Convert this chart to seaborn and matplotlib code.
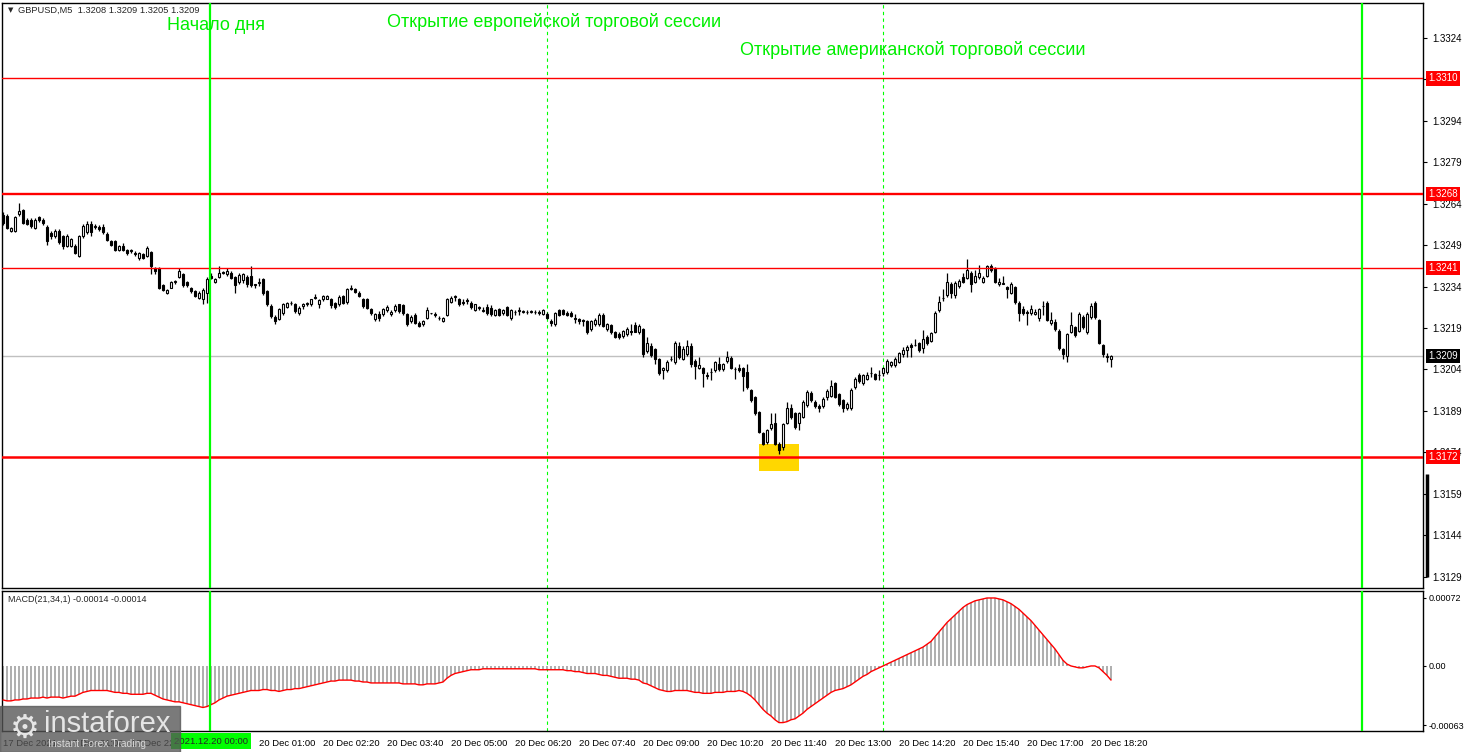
import numpy as np
import pandas as pd
import matplotlib
matplotlib.use('Agg')
import matplotlib.pyplot as plt
import matplotlib.transforms as mtransforms
from matplotlib.patches import Rectangle
import seaborn as sns

# GBPUSD M5 candles, 17 Dec 19:40 .. 20 Dec 18:45
open_p = [
    1.32604, 1.32598, 1.32546, 1.32546, 1.32607, 1.32622, 1.32585, 1.32585, 1.32555, 1.32595,
    1.32583, 1.32559, 1.32537, 1.32525, 1.32546, 1.32527, 1.32489, 1.32489, 1.32491, 1.32453,
    1.32527, 1.32540, 1.32571, 1.32559, 1.32559, 1.32559, 1.32535, 1.32507, 1.32507, 1.32477,
    1.32489, 1.32477, 1.32473, 1.32465, 1.32447, 1.32459, 1.32453, 1.32467, 1.32410, 1.32410,
    1.32346, 1.32317, 1.32338, 1.32358, 1.32378, 1.32386, 1.32358, 1.32338, 1.32326, 1.32302,
    1.32296, 1.32317, 1.32380, 1.32358, 1.32377, 1.32394, 1.32386, 1.32392, 1.32377, 1.32358,
    1.32365, 1.32377, 1.32380, 1.32346, 1.32355, 1.32368, 1.32326, 1.32271, 1.32233, 1.32225,
    1.32247, 1.32269, 1.32281, 1.32277, 1.32245, 1.32273, 1.32277, 1.32277, 1.32301, 1.32277,
    1.32295, 1.32298, 1.32295, 1.32281, 1.32277, 1.32308, 1.32286, 1.32334, 1.32334, 1.32320,
    1.32295, 1.32295, 1.32259, 1.32223, 1.32241, 1.32241, 1.32256, 1.32241, 1.32256, 1.32277,
    1.32275, 1.32241, 1.32215, 1.32239, 1.32211, 1.32205, 1.32229, 1.32244, 1.32241, 1.32229,
    1.32217, 1.32239, 1.32287, 1.32304, 1.32296, 1.32287, 1.32292, 1.32283, 1.32256, 1.32265,
    1.32253, 1.32268, 1.32263, 1.32239, 1.32259, 1.32244, 1.32268, 1.32227, 1.32248, 1.32253,
    1.32251, 1.32248, 1.32251, 1.32249, 1.32251, 1.32241, 1.32241, 1.32217, 1.32205, 1.32256,
    1.32256, 1.32247, 1.32247, 1.32229, 1.32223, 1.32220, 1.32215, 1.32187, 1.32205, 1.32207,
    1.32239, 1.32187, 1.32202, 1.32175, 1.32171, 1.32163, 1.32169, 1.32181, 1.32202, 1.32175,
    1.32187, 1.32108, 1.32126, 1.32114, 1.32078, 1.32038, 1.32038, 1.32078, 1.32066, 1.32126,
    1.32078, 1.32096, 1.32126, 1.32072, 1.32045, 1.32045, 1.32020, 1.32030, 1.32038, 1.32060,
    1.32042, 1.32070, 1.32082, 1.32042, 1.32045, 1.32045, 1.32032, 1.31967, 1.31941, 1.31886,
    1.31809, 1.31776, 1.31828, 1.31846, 1.31768, 1.31758, 1.31846, 1.31898, 1.31882, 1.31846,
    1.31868, 1.31910, 1.31953, 1.31922, 1.31906, 1.31906, 1.31938, 1.31943, 1.31989, 1.31950,
    1.31928, 1.31898, 1.31898, 1.31977, 1.32020, 1.31989, 1.32007, 1.32028, 1.32023, 1.32020,
    1.32028, 1.32032, 1.32056, 1.32056, 1.32068, 1.32096, 1.32111, 1.32129, 1.32129, 1.32138,
    1.32117, 1.32160, 1.32145, 1.32178, 1.32257, 1.32300, 1.32312, 1.32352, 1.32312, 1.32345,
    1.32376, 1.32373, 1.32393, 1.32360, 1.32376, 1.32360, 1.32381, 1.32418, 1.32409, 1.32352,
    1.32352, 1.32340, 1.32320, 1.32340, 1.32284, 1.32259, 1.32250, 1.32247, 1.32242, 1.32226,
    1.32272, 1.32284, 1.32208, 1.32214, 1.32181, 1.32113, 1.32089, 1.32178, 1.32196, 1.32181,
    1.32233, 1.32178, 1.32230, 1.32284, 1.32220, 1.32129, 1.32087, 1.32080,
]
high_p = [
    1.32615, 1.32605, 1.32560, 1.32600, 1.32648, 1.32625, 1.32590, 1.32590, 1.32590, 1.32600,
    1.32590, 1.32565, 1.32545, 1.32552, 1.32550, 1.32530, 1.32532, 1.32520, 1.32496, 1.32530,
    1.32570, 1.32580, 1.32580, 1.32570, 1.32565, 1.32570, 1.32540, 1.32512, 1.32510, 1.32495,
    1.32500, 1.32480, 1.32478, 1.32470, 1.32468, 1.32465, 1.32489, 1.32470, 1.32415, 1.32412,
    1.32350, 1.32333, 1.32362, 1.32366, 1.32410, 1.32392, 1.32362, 1.32342, 1.32330, 1.32325,
    1.32335, 1.32376, 1.32390, 1.32372, 1.32416, 1.32398, 1.32410, 1.32398, 1.32380, 1.32392,
    1.32390, 1.32385, 1.32416, 1.32352, 1.32372, 1.32374, 1.32330, 1.32277, 1.32240, 1.32265,
    1.32282, 1.32285, 1.32290, 1.32283, 1.32270, 1.32283, 1.32287, 1.32298, 1.32314, 1.32298,
    1.32312, 1.32313, 1.32300, 1.32285, 1.32310, 1.32312, 1.32338, 1.32348, 1.32338, 1.32325,
    1.32300, 1.32300, 1.32265, 1.32247, 1.32253, 1.32265, 1.32275, 1.32255, 1.32277, 1.32280,
    1.32280, 1.32245, 1.32238, 1.32245, 1.32215, 1.32222, 1.32268, 1.32246, 1.32250, 1.32235,
    1.32232, 1.32300, 1.32308, 1.32310, 1.32300, 1.32295, 1.32300, 1.32288, 1.32280, 1.32272,
    1.32268, 1.32280, 1.32275, 1.32262, 1.32265, 1.32260, 1.32272, 1.32260, 1.32256, 1.32268,
    1.32256, 1.32256, 1.32256, 1.32256, 1.32256, 1.32262, 1.32250, 1.32225, 1.32250, 1.32262,
    1.32260, 1.32253, 1.32253, 1.32241, 1.32229, 1.32225, 1.32220, 1.32220, 1.32229, 1.32244,
    1.32244, 1.32210, 1.32205, 1.32180, 1.32175, 1.32185, 1.32195, 1.32205, 1.32212, 1.32205,
    1.32190, 1.32160, 1.32135, 1.32120, 1.32082, 1.32050, 1.32075, 1.32090, 1.32142, 1.32140,
    1.32125, 1.32147, 1.32135, 1.32080, 1.32085, 1.32050, 1.32030, 1.32045, 1.32072, 1.32085,
    1.32065, 1.32108, 1.32090, 1.32050, 1.32060, 1.32050, 1.32060, 1.31970, 1.31945, 1.31890,
    1.31812, 1.31825, 1.31880, 1.31880, 1.31775, 1.31845, 1.31922, 1.31914, 1.31886, 1.31886,
    1.31928, 1.31965, 1.31960, 1.31930, 1.31915, 1.31940, 1.31968, 1.32001, 1.31995, 1.31955,
    1.31933, 1.31920, 1.31972, 1.32013, 1.32028, 1.32025, 1.32030, 1.32048, 1.32028, 1.32038,
    1.32050, 1.32080, 1.32072, 1.32086, 1.32105, 1.32123, 1.32128, 1.32135, 1.32150, 1.32140,
    1.32184, 1.32165, 1.32178, 1.32253, 1.32306, 1.32333, 1.32390, 1.32360, 1.32362, 1.32370,
    1.32390, 1.32442, 1.32400, 1.32403, 1.32421, 1.32380, 1.32421, 1.32425, 1.32415, 1.32375,
    1.32380, 1.32345, 1.32360, 1.32345, 1.32290, 1.32270, 1.32255, 1.32275, 1.32262, 1.32265,
    1.32290, 1.32290, 1.32250, 1.32225, 1.32186, 1.32118, 1.32172, 1.32250, 1.32200, 1.32250,
    1.32238, 1.32250, 1.32284, 1.32290, 1.32225, 1.32132, 1.32100, 1.32092,
]
low_p = [
    1.32565, 1.32550, 1.32540, 1.32540, 1.32600, 1.32570, 1.32565, 1.32555, 1.32550, 1.32578,
    1.32565, 1.32495, 1.32515, 1.32520, 1.32498, 1.32480, 1.32485, 1.32485, 1.32460, 1.32450,
    1.32520, 1.32535, 1.32525, 1.32550, 1.32545, 1.32535, 1.32508, 1.32490, 1.32472, 1.32472,
    1.32470, 1.32458, 1.32465, 1.32455, 1.32440, 1.32442, 1.32448, 1.32386, 1.32386, 1.32333,
    1.32325, 1.32315, 1.32335, 1.32352, 1.32372, 1.32340, 1.32342, 1.32320, 1.32303, 1.32296,
    1.32277, 1.32281, 1.32370, 1.32355, 1.32372, 1.32388, 1.32380, 1.32370, 1.32317, 1.32352,
    1.32355, 1.32340, 1.32340, 1.32335, 1.32345, 1.32312, 1.32272, 1.32229, 1.32205, 1.32220,
    1.32240, 1.32265, 1.32275, 1.32247, 1.32240, 1.32262, 1.32270, 1.32272, 1.32295, 1.32265,
    1.32290, 1.32295, 1.32265, 1.32260, 1.32272, 1.32277, 1.32280, 1.32328, 1.32318, 1.32305,
    1.32265, 1.32260, 1.32240, 1.32218, 1.32217, 1.32235, 1.32250, 1.32236, 1.32250, 1.32245,
    1.32238, 1.32200, 1.32208, 1.32205, 1.32195, 1.32200, 1.32225, 1.32242, 1.32232, 1.32220,
    1.32214, 1.32235, 1.32283, 1.32290, 1.32272, 1.32275, 1.32277, 1.32262, 1.32252, 1.32258,
    1.32250, 1.32240, 1.32235, 1.32235, 1.32235, 1.32240, 1.32235, 1.32222, 1.32240, 1.32240,
    1.32245, 1.32241, 1.32244, 1.32241, 1.32240, 1.32237, 1.32225, 1.32200, 1.32200, 1.32235,
    1.32237, 1.32235, 1.32230, 1.32210, 1.32205, 1.32200, 1.32170, 1.32180, 1.32200, 1.32200,
    1.32195, 1.32180, 1.32168, 1.32155, 1.32150, 1.32155, 1.32162, 1.32165, 1.32175, 1.32170,
    1.32085, 1.32100, 1.32085, 1.32060, 1.32020, 1.32005, 1.32030, 1.32070, 1.32060, 1.32080,
    1.32075, 1.32090, 1.32050, 1.32005, 1.32040, 1.31975, 1.32005, 1.32002, 1.32030, 1.32035,
    1.32035, 1.32065, 1.32040, 1.32005, 1.32030, 1.31963, 1.31970, 1.31922, 1.31875, 1.31810,
    1.31765, 1.31770, 1.31819, 1.31765, 1.31731, 1.31745, 1.31840, 1.31860, 1.31825, 1.31819,
    1.31862, 1.31905, 1.31920, 1.31900, 1.31886, 1.31900, 1.31930, 1.31938, 1.31935, 1.31906,
    1.31886, 1.31892, 1.31892, 1.31970, 1.31990, 1.31985, 1.32000, 1.32013, 1.32000, 1.32001,
    1.32016, 1.32025, 1.32050, 1.32048, 1.32062, 1.32087, 1.32087, 1.32087, 1.32125, 1.32105,
    1.32099, 1.32130, 1.32140, 1.32172, 1.32250, 1.32290, 1.32305, 1.32300, 1.32300, 1.32335,
    1.32355, 1.32370, 1.32324, 1.32355, 1.32370, 1.32355, 1.32376, 1.32395, 1.32355, 1.32345,
    1.32350, 1.32300, 1.32315, 1.32280, 1.32215, 1.32240, 1.32202, 1.32240, 1.32238, 1.32218,
    1.32240, 1.32215, 1.32202, 1.32180, 1.32110, 1.32080, 1.32068, 1.32172, 1.32160, 1.32175,
    1.32188, 1.32170, 1.32225, 1.32225, 1.32132, 1.32087, 1.32068, 1.32048,
]
close_p = [
    1.32573, 1.32555, 1.32555, 1.32595, 1.32616, 1.32573, 1.32571, 1.32561, 1.32585, 1.32583,
    1.32575, 1.32507, 1.32525, 1.32546, 1.32503, 1.32489, 1.32527, 1.32515, 1.32465, 1.32527,
    1.32564, 1.32571, 1.32540, 1.32563, 1.32552, 1.32540, 1.32513, 1.32495, 1.32477, 1.32491,
    1.32477, 1.32465, 1.32477, 1.32461, 1.32465, 1.32447, 1.32483, 1.32416, 1.32398, 1.32338,
    1.32329, 1.32329, 1.32358, 1.32361, 1.32398, 1.32346, 1.32346, 1.32326, 1.32308, 1.32320,
    1.32329, 1.32370, 1.32374, 1.32368, 1.32390, 1.32392, 1.32398, 1.32374, 1.32346, 1.32383,
    1.32386, 1.32350, 1.32346, 1.32350, 1.32358, 1.32317, 1.32277, 1.32235, 1.32217, 1.32259,
    1.32277, 1.32281, 1.32283, 1.32253, 1.32265, 1.32277, 1.32281, 1.32295, 1.32305, 1.32293,
    1.32308, 1.32308, 1.32274, 1.32269, 1.32305, 1.32281, 1.32334, 1.32337, 1.32322, 1.32308,
    1.32271, 1.32265, 1.32245, 1.32241, 1.32229, 1.32259, 1.32268, 1.32251, 1.32271, 1.32253,
    1.32244, 1.32205, 1.32232, 1.32211, 1.32199, 1.32217, 1.32256, 1.32244, 1.32238, 1.32226,
    1.32229, 1.32296, 1.32299, 1.32308, 1.32277, 1.32283, 1.32290, 1.32268, 1.32277, 1.32268,
    1.32255, 1.32244, 1.32241, 1.32256, 1.32239, 1.32256, 1.32239, 1.32256, 1.32251, 1.32256,
    1.32251, 1.32251, 1.32253, 1.32251, 1.32244, 1.32256, 1.32229, 1.32211, 1.32247, 1.32239,
    1.32241, 1.32239, 1.32235, 1.32223, 1.32217, 1.32217, 1.32175, 1.32215, 1.32220, 1.32239,
    1.32199, 1.32207, 1.32175, 1.32159, 1.32157, 1.32181, 1.32187, 1.32177, 1.32178, 1.32199,
    1.32096, 1.32138, 1.32094, 1.32078, 1.32026, 1.32045, 1.32066, 1.32078, 1.32138, 1.32084,
    1.32114, 1.32126, 1.32060, 1.32054, 1.32057, 1.32026, 1.32018, 1.32030, 1.32066, 1.32042,
    1.32060, 1.32087, 1.32045, 1.32042, 1.32038, 1.32018, 1.31977, 1.31928, 1.31880, 1.31813,
    1.31768, 1.31819, 1.31841, 1.31770, 1.31748, 1.31841, 1.31898, 1.31868, 1.31831, 1.31880,
    1.31922, 1.31959, 1.31928, 1.31906, 1.31900, 1.31931, 1.31962, 1.31979, 1.31941, 1.31916,
    1.31898, 1.31914, 1.31967, 1.32007, 1.31999, 1.32020, 1.32020, 1.32028, 1.32007, 1.32020,
    1.32044, 1.32072, 1.32068, 1.32080, 1.32099, 1.32111, 1.32121, 1.32121, 1.32131, 1.32111,
    1.32150, 1.32138, 1.32172, 1.32247, 1.32287, 1.32300, 1.32360, 1.32320, 1.32354, 1.32364,
    1.32360, 1.32401, 1.32352, 1.32381, 1.32393, 1.32373, 1.32418, 1.32403, 1.32360, 1.32360,
    1.32354, 1.32332, 1.32352, 1.32287, 1.32247, 1.32247, 1.32247, 1.32259, 1.32251, 1.32259,
    1.32271, 1.32220, 1.32220, 1.32186, 1.32117, 1.32096, 1.32169, 1.32202, 1.32166, 1.32242,
    1.32193, 1.32242, 1.32272, 1.32230, 1.32138, 1.32096, 1.32087, 1.32090,
]
# MACD(21,34,1) main line, one value per candle
macd = [
    -0.00036, -0.00037, -0.00037, -0.00036, -0.00036, -0.00035, -0.00035, -0.00034, -0.00034, -0.00034,
    -0.00033, -0.00034, -0.00033, -0.00033, -0.00033, -0.00034, -0.00033, -0.00032, -0.00032, -0.00030,
    -0.00028, -0.00027, -0.00026, -0.00026, -0.00026, -0.00026, -0.00026, -0.00027, -0.00028, -0.00028,
    -0.00029, -0.00029, -0.00030, -0.00030, -0.00030, -0.00030, -0.00029, -0.00029, -0.00031, -0.00033,
    -0.00035, -0.00036, -0.00037, -0.00038, -0.00038, -0.00039, -0.00040, -0.00041, -0.00042, -0.00043,
    -0.00044, -0.00043, -0.00041, -0.00039, -0.00036, -0.00034, -0.00032, -0.00031, -0.00030, -0.00029,
    -0.00028, -0.00027, -0.00026, -0.00026, -0.00026, -0.00025, -0.00025, -0.00026, -0.00026, -0.00027,
    -0.00026, -0.00025, -0.00025, -0.00024, -0.00024, -0.00023, -0.00022, -0.00021, -0.00020, -0.00019,
    -0.00018, -0.00017, -0.00016, -0.00016, -0.00015, -0.00015, -0.00015, -0.00015, -0.00016, -0.00016,
    -0.00017, -0.00017, -0.00018, -0.00018, -0.00018, -0.00018, -0.00018, -0.00018, -0.00018, -0.00018,
    -0.00019, -0.00019, -0.00019, -0.00019, -0.00020, -0.00020, -0.00019, -0.00019, -0.00019, -0.00018,
    -0.00017, -0.00013, -0.00010, -0.00008, -0.00007, -0.00006, -0.00005, -0.00004, -0.00004, -0.00004,
    -0.00003, -0.00003, -0.00003, -0.00003, -0.00003, -0.00003, -0.00003, -0.00003, -0.00003, -0.00003,
    -0.00003, -0.00003, -0.00003, -0.00003, -0.00004, -0.00004, -0.00004, -0.00004, -0.00004, -0.00004,
    -0.00004, -0.00005, -0.00005, -0.00006, -0.00006, -0.00007, -0.00008, -0.00008, -0.00008, -0.00009,
    -0.00010, -0.00010, -0.00011, -0.00012, -0.00013, -0.00013, -0.00013, -0.00014, -0.00014, -0.00015,
    -0.00018, -0.00019, -0.00021, -0.00023, -0.00025, -0.00026, -0.00027, -0.00027, -0.00026, -0.00026,
    -0.00026, -0.00026, -0.00027, -0.00028, -0.00028, -0.00029, -0.00029, -0.00029, -0.00028, -0.00028,
    -0.00028, -0.00027, -0.00027, -0.00027, -0.00026, -0.00027, -0.00029, -0.00032, -0.00036, -0.00041,
    -0.00046, -0.00050, -0.00053, -0.00057, -0.00060, -0.00060, -0.00059, -0.00057, -0.00056, -0.00053,
    -0.00050, -0.00046, -0.00043, -0.00040, -0.00037, -0.00034, -0.00031, -0.00028, -0.00026, -0.00025,
    -0.00024, -0.00022, -0.00020, -0.00017, -0.00014, -0.00011, -0.00009, -0.00006, -0.00004, -0.00002,
    0.00000, 0.00002, 0.00004, 0.00006, 0.00008, 0.00010, 0.00012, 0.00014, 0.00016, 0.00018,
    0.00020, 0.00023, 0.00026, 0.00031, 0.00036, 0.00041, 0.00046, 0.00050, 0.00054, 0.00058,
    0.00062, 0.00065, 0.00067, 0.00069, 0.00070, 0.00071, 0.00072, 0.00072, 0.00072, 0.00071,
    0.00070, 0.00068, 0.00066, 0.00063, 0.00060, 0.00056, 0.00052, 0.00048, 0.00043, 0.00038,
    0.00033, 0.00028, 0.00023, 0.00018, 0.00012, 0.00006, 0.00002, 0.00000, -0.00001, -0.00002,
    -0.00002, -0.00001, 0.00000, 0.00000, -0.00002, -0.00006, -0.00010, -0.00015,
]

levels = [1.3310, 1.3268, 1.3241, 1.3172]
level_widths = [1.0, 1.7, 1.0, 1.8]
bid = 1.3209

# price scale ticks (the 1.3309 one sits under the 1.3310 box on the original)
price_ticks = [1.33248, 1.33097, 1.32946, 1.32795, 1.32644, 1.32493, 1.32342,
               1.32191, 1.32040, 1.31889, 1.31738, 1.31587, 1.31436, 1.31285]
price_labels = ['1.3324', '', '1.3294', '1.3279', '1.3264', '1.3249', '1.3234',
                '1.3219', '1.3204', '1.3189', '1.3174', '1.3159', '1.3144', '1.3129']
macd_ticks = [0.00072, 0.0, -0.00063]
macd_labels = ['0.00072', '0.00', '-0.00063']

# time axis (23:40 label is covered by the highlighted day-start stamp)
time_ticks = [0, 16, 32, 48, 64, 80, 96, 112, 128, 144, 160, 176, 192, 208, 224, 240, 256, 272]
time_labels = ['17 Dec 2021', '17 Dec 21:00', '17 Dec 22:20', '',
               '20 Dec 01:00', '20 Dec 02:20', '20 Dec 03:40', '20 Dec 05:00', '20 Dec 06:20',
               '20 Dec 07:40', '20 Dec 09:00', '20 Dec 10:20', '20 Dec 11:40', '20 Dec 13:00',
               '20 Dec 14:20', '20 Dec 15:40', '20 Dec 17:00', '20 Dec 18:20']

day_start = 51.75      # 20 Dec 00:00
europe_open = 136      # 06:20 dashed
america_open = 220     # 13:00 dashed
right_marker = 339.75
highlight_x = (188.9, 198.9)
highlight_y = (1.31670, 1.31768)

df = pd.DataFrame({'open': open_p, 'high': high_p, 'low': low_p, 'close': close_p, 'macd': macd})
df['i'] = np.arange(len(df))

sns.set_style('white')
plt.rcParams['font.family'] = ['Liberation Sans', 'DejaVu Sans']

W, H = 1467, 752
fig = plt.figure(figsize=(W / 100, H / 100), dpi=100)


def px_box(x0, y0, x1, y1):
    return [x0 / W, 1 - y1 / H, (x1 - x0) / W, (y1 - y0) / H]


ax = fig.add_axes(px_box(2, 3, 1423, 588))
axm = fig.add_axes(px_box(2, 591, 1423, 731))
GREEN = '#00ff00'

# --- price panel ---
up = df['close'] >= df['open']
body_lo = np.minimum(df['open'], df['close'])
body_h = np.maximum((df['close'] - df['open']).abs(), 0.00001)
ax.vlines(df['i'], df['low'], df['high'], color='black', lw=0.9, zorder=4)
ax.bar(df['i'][up], body_h[up], bottom=body_lo[up], width=0.7, color='white',
       edgecolor='black', lw=0.8, zorder=5)
ax.bar(df['i'][~up], body_h[~up], bottom=body_lo[~up], width=0.7, color='black',
       edgecolor='black', lw=0.8, zorder=5)

ax.add_patch(Rectangle((highlight_x[0], highlight_y[0]), highlight_x[1] - highlight_x[0],
                       highlight_y[1] - highlight_y[0], color='#ffd700', lw=0, zorder=1))

ax.axhline(bid, color='#c0c0c0', lw=1, zorder=2)
for lvl, lw in zip(levels, level_widths):
    ax.axhline(lvl, color='red', lw=lw, zorder=6)

ax.set_xlim(-0.25, 355)
ax.set_ylim(1.31244, 1.33375)
ax.set_xticks([])
ax.yaxis.tick_right()
ax.set_yticks(price_ticks)
ax.set_yticklabels(price_labels)
ax.tick_params(axis='y', direction='out', length=3, width=0.8, labelsize=7, pad=4, colors='black')

trans = mtransforms.blended_transform_factory(ax.transAxes, ax.transData)
for lvl in levels:
    ax.text(1.0035, lvl, f'{lvl:.4f}', transform=trans, va='center', ha='left', fontsize=7,
            color='white', zorder=10, clip_on=False,
            bbox=dict(boxstyle='square,pad=0.22', fc='red', ec='none'))
ax.text(1.0035, bid, f'{bid:.4f}', transform=trans, va='center', ha='left', fontsize=7,
        color='white', zorder=10, clip_on=False,
        bbox=dict(boxstyle='square,pad=0.22', fc='black', ec='none'))
ax.plot([1.0025, 1.0025], [1.31285, 1.31660], transform=trans, color='black', lw=2.5,
        clip_on=False, solid_capstyle='butt')

# --- MACD panel ---
axm.bar(df['i'], df['macd'], width=0.45, color='#b0b0b0', lw=0, zorder=2)
sns.lineplot(data=df, x='i', y='macd', ax=axm, color='red', lw=1.0, zorder=3)
axm.set_xlim(-0.25, 355)
axm.set_ylim(-0.000689, 0.000794)
axm.set_xlabel('')
axm.set_ylabel('')
axm.yaxis.tick_right()
axm.set_yticks(macd_ticks)
axm.set_yticklabels(macd_labels)
axm.tick_params(axis='y', direction='out', length=2, width=0.8, labelsize=6.5, pad=2, colors='black')
axm.set_xticks(time_ticks)
axm.set_xticklabels(time_labels)
axm.tick_params(axis='x', direction='out', length=4, width=0.8, labelsize=6.8, pad=2, colors='black')
for lbl in axm.get_xticklabels():
    lbl.set_ha('left')

for a in (ax, axm):
    for s in a.spines.values():
        s.set_color('black')
        s.set_linewidth(1)
    a.axvline(day_start, color=GREEN, lw=1.6, zorder=7)
    a.axvline(right_marker, color=GREEN, lw=1.6, zorder=7)
    for pos in (europe_open, america_open):
        a.axvline(pos, color=GREEN, lw=0.8, ls=(0, (3, 3)), zorder=1.5)


# --- texts ---
def ftext(x, y, s, **kw):
    return fig.text(x / W, 1 - y / H, s, **kw)


ftext(8, 10, '\u25bc', fontsize=5, va='center', ha='left', family=['DejaVu Sans'])
ftext(18, 10, 'GBPUSD,M5  1.3208 1.3209 1.3205 1.3209', fontsize=6.7, va='center', ha='left')
ftext(8, 600, 'MACD(21,34,1) -0.00014 -0.00014', fontsize=6.5, va='center', ha='left')
ftext(167, 26, 'Начало дня', fontsize=13, color='#00ee00', va='center', ha='left')
ftext(387, 22, 'Открытие европейской торговой сессии', fontsize=13, color='#00ee00',
      va='center', ha='left')
ftext(740, 50, 'Открытие американской торговой сессии', fontsize=13, color='#00ee00',
      va='center', ha='left')
ftext(211, 741, '2021.12.20 00:00', fontsize=6.8, va='center', ha='center', zorder=12,
      bbox=dict(boxstyle='square,pad=0.35', fc=GREEN, ec='none'))

# watermark
fig.patches.append(Rectangle((0, 0), 180 / W, 46 / H, transform=fig.transFigure,
                             color='#555555', alpha=0.78, zorder=20))
ftext(25, 728, '\u2699', fontsize=24, color='#e6e6e6', va='center', ha='center', zorder=21,
      family=['DejaVu Sans'])
ftext(44, 724, 'instaforex', fontsize=21, color='#e6e6e6', va='center', ha='left', zorder=21)
ftext(48, 744, 'Instant Forex Trading', fontsize=7.5, color='#d8d8d8', va='center', ha='left',
      zorder=21)

fig.savefig('out.png', dpi=100)
